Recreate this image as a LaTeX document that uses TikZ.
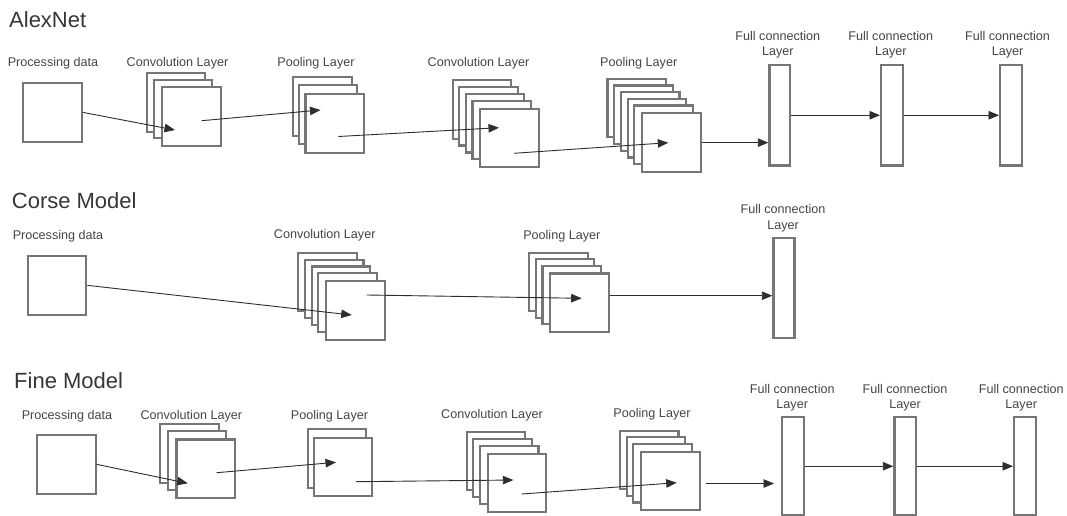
\documentclass[tikz,border=0pt]{standalone}
\usepackage{fontspec}
\setmainfont{Liberation Sans}
\usetikzlibrary{arrows.meta}

\definecolor{boxline}{HTML}{767676}
\definecolor{labeltext}{HTML}{454545}
\definecolor{titletext}{HTML}{363636}
\definecolor{arrowline}{HTML}{2E2E2E}

\tikzset{
  sqline/.style={draw=boxline, line width=2.2pt, fill=white},
  sq/.style={sqline, minimum width=58.5pt, minimum height=58.5pt, inner sep=0pt, anchor=north west},
  fcbox/.style={sqline, inner sep=0pt, anchor=north west},
  lbl/.style={text=labeltext, font=\fontsize{12.6}{15}\selectfont, inner sep=0pt, anchor=base},
  ttl/.style={text=titletext, font=\fontsize{22}{26}\selectfont, inner sep=0pt, anchor=base west},
  arr/.style={draw=arrowline, line width=0.9pt, -{Triangle[length=10.5pt,width=8.5pt]}}
}

% stack of feature maps: name, front x, front y, count, dx, dy
\newcommand\layerstack[6]{%
  \pgfmathtruncatemacro\nback{#4-1}
  \foreach \k in {\nback,...,1}{%
    \draw[sqline] ({#2-\k*#5},{#3-\k*#6}) rectangle ++(58.5,58.5);
  }
  \node[sq] (#1) at (#2,#3) {};
}

% fully connected layer: name, left x, top y, width, height
\newcommand\fclayer[5]{%
  \node[fcbox, minimum width=#4pt, minimum height=#5pt] (#1) at (#2,#3) {};
}

\begin{document}
\begin{tikzpicture}[x=1pt, y=-1pt]
\fill[white] (0,0) rectangle (1067,516);
\useasboundingbox (0,0) rectangle (1067,516);

%% ---------------- AlexNet ----------------
\node[ttl] (tA) at (9,28) {AlexNet};
\node[lbl] (lA0) at (53,67) {Processing data};
\node[lbl] (lA1) at (177.5,67) {Convolution Layer};
\node[lbl] (lA2) at (316,67) {Pooling Layer};
\node[lbl] (lA3) at (478.5,67) {Convolution Layer};
\node[lbl] (lA4) at (638.7,67) {Pooling Layer};
\foreach \n/\x in {5/777.8,6/890.8,7/1007.5}{
  \node[lbl] (lA\n a) at (\x,41) {Full connection};
  \node[lbl] (lA\n b) at (\x,56) {Layer};
}

\node[sq] (dA) at (22,82) {};
\layerstack{cA1}{161}{86}{3}{7.2}{6.3}
\layerstack{pA1}{304.3}{93}{3}{5.5}{7.8}
\layerstack{cA2}{479}{107.7}{5}{6.6}{6.9}
\layerstack{pA2}{641}{112.3}{6}{6.7}{6.7}
\fclayer{fA1}{768.3}{64}{20.5}{100.3}
\fclayer{fA2}{880}{64}{21.5}{100.3}
\fclayer{fA3}{999}{64}{21.5}{100.3}

\coordinate (aA1) at (175,130);
\coordinate (aA2s) at (201.7,120.7);
\coordinate (aA2e) at (320.5,110);
\coordinate (aA3s) at (338.3,136.5);
\coordinate (aA3e) at (499,127.7);
\coordinate (aA4s) at (514,153.3);
\coordinate (aA4e) at (668.3,142.7);

\draw[arr] (dA.east) -- (aA1);
\draw[arr] (aA2s) -- (aA2e);
\draw[arr] (aA3s) -- (aA3e);
\draw[arr] (aA4s) -- (aA4e);
\draw[arr] (pA2.east) -- (pA2.east -| fA1.west);
\draw[arr] (fA1.east) -- (fA2.west);
\draw[arr] (fA2.east) -- (fA3.west);

%% ---------------- Corse Model ----------------
\node[ttl] (tB) at (11.7,208) {Corse Model};
\node[lbl] (lB0) at (58,239) {Processing data};
\node[lbl] (lB1) at (324.7,238.5) {Convolution Layer};
\node[lbl] (lB2) at (561.8,239) {Pooling Layer};
\node[lbl] (lB3a) at (783,213.5) {Full connection};
\node[lbl] (lB3b) at (783,229) {Layer};

\node[sq] (dB) at (26.7,255) {};
\layerstack{cB1}{325}{280}{5}{6.7}{6.8}
\layerstack{pB1}{549}{272.3}{4}{6.6}{6.5}
\fclayer{fB1}{772.3}{236.7}{21}{100}

\coordinate (aB1) at (351.7,315);
\coordinate (aB2s) at (366.7,295);
\coordinate (aB2e) at (581.7,298.3);
\coordinate (aB3) at (0,295.7);

\draw[arr] (dB.east) -- (aB1);
\draw[arr] (aB2s) -- (aB2e);
\draw[arr] (pB1.east |- aB3) -- (fB1.west |- aB3);

%% ---------------- Fine Model ----------------
\node[ttl] (tC) at (14,388.5) {Fine Model};
\node[lbl] (lC0) at (67,419) {Processing data};
\node[lbl] (lC1) at (191.3,419) {Convolution Layer};
\node[lbl] (lC2) at (329.5,419) {Pooling Layer};
\node[lbl] (lC3) at (492,418) {Convolution Layer};
\node[lbl] (lC4) at (652,417.5) {Pooling Layer};
\foreach \n/\x in {5/792.2,6/905,7/1021.2}{
  \node[lbl] (lC\n a) at (\x,393.5) {Full connection};
  \node[lbl] (lC\n b) at (\x,408.5) {Layer};
}

\node[sq] (dC) at (36,434) {};
\layerstack{cC1}{175.3}{438.3}{3}{7.5}{7}
\layerstack{pC1}{312.7}{436.7}{2}{5}{7.5}
\layerstack{cC2}{486.7}{452.7}{4}{6.7}{7}
\layerstack{pC2}{640}{450.7}{4}{6.7}{6.7}
\fclayer{fC1}{781}{416}{21.5}{98.3}
\fclayer{fC2}{893.3}{416}{21.5}{98.3}
\fclayer{fC3}{1013}{416}{21.5}{98.3}

\coordinate (aC1) at (187.7,483.3);
\coordinate (aC2s) at (216.7,472.7);
\coordinate (aC2e) at (336,462.3);
\coordinate (aC3s) at (356,481.7);
\coordinate (aC3e) at (513.3,480);
\coordinate (aC4s) at (521.7,494);
\coordinate (aC4e) at (676.7,482.7);
\coordinate (aC5) at (0,483.5);

\draw[arr] (dC.east) -- (aC1);
\draw[arr] (aC2s) -- (aC2e);
\draw[arr] (aC3s) -- (aC3e);
\draw[arr] (aC4s) -- (aC4e);
\draw[arr, shorten <=5pt, shorten >=7pt] (pC2.east |- aC5) -- (fC1.west |- aC5);
\draw[arr] (fC1.east) -- (fC2.west);
\draw[arr] (fC2.east) -- (fC3.west);
\end{tikzpicture}
\end{document}
